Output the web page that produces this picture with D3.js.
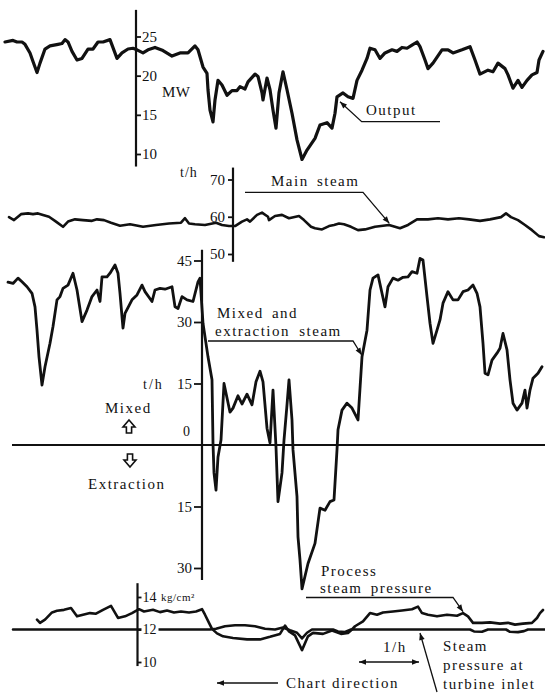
<!DOCTYPE html>
<html>
<head>
<meta charset="utf-8">
<script src="https://cdn.jsdelivr.net/npm/d3@7"></script>
<style>
  html, body { margin: 0; padding: 0; background: #fff; }
  svg { display: block; }
</style>
</head>
<body>
<svg id="chart" width="545" height="695"></svg>
<script>
// ---- Recorder strip data: [time along strip (min), value] ----
const outputMW = [
  [1,24.3],[9,24.5],[13,24.3],[18,24.3],[21,24.0],[26,22.9],[29,21.8],[33,20.4],[36,21.6],[41,23.4],
  [46,23.8],[54,24.0],[58,24.1],[61,24.6],[64,24.3],[68,23.1],[73,22.0],[78,22.2],[84,23.4],[89,23.4],
  [94,24.3],[99,24.3],[106,24.6],[113,22.2],[118,22.9],[124,23.4],[129,23.5],[133,23.3],[139,22.9],[144,23.3],
  [151,23.6],[159,23.2],[168,22.5],[176,22.9],[184,22.9],[191,23.8],[194,23.3],[199,21.1],[203,20.3],[204,18.2],
  [206,15.6],[209,14.1],[211,16.9],[214,19.4],[218,18.8],[223,17.5],[228,18.1],[233,18.1],[236,18.6],[241,18.3],
  [244,19.2],[251,20.2],[254,19.9],[258,17.8],[259,16.9],[263,19.7],[266,18.2],[269,15.6],[272,13.3],[275,17.8],
  [279,20.5],[283,18.2],[288,15.2],[293,11.8],[298,9.3],[303,10.5],[311,12.0],[316,13.7],[323,14.0],[328,13.3],
  [331,15.2],[333,17.3],[339,17.8],[344,17.3],[349,17.1],[353,19.4],[358,20.7],[363,22.2],[366,23.5],[371,23.3],
  [376,22.2],[381,22.9],[388,23.3],[393,23.1],[398,23.6],[403,23.5],[408,23.9],[413,24.3],[416,23.7],[421,22.0],
  [424,20.9],[429,21.6],[438,23.3],[444,23.3],[449,22.9],[458,23.3],[466,23.7],[471,22.0],[476,20.2],[484,20.7],
  [489,20.5],[494,21.6],[501,20.9],[504,20.1],[509,18.4],[514,19.4],[518,18.5],[523,19.4],[528,20.1],[533,20.4],
  [535,22.0],[539,23.1]
];

const mainSteam = [
  [5,59.9],[10,59.1],[17,60.7],[24,60.9],[29,60.7],[34,60.9],[39,60.5],[45,60.0],[52,58.7],[59,57.3],
  [64,58.7],[71,59.3],[79,59.1],[88,58.9],[93,59.3],[100,59.1],[107,58.4],[116,57.6],[126,58.0],[139,57.3],
  [152,57.8],[165,58.2],[177,58.4],[181,59.6],[185,58.2],[191,58.0],[201,57.8],[212,58.4],[218,57.8],[225,57.5],
  [231,57.5],[238,58.7],[243,59.3],[246,58.7],[253,60.5],[258,61.1],[264,60.0],[265,59.1],[271,60.2],[278,60.5],
  [285,59.6],[295,60.2],[300,59.1],[307,57.3],[311,56.9],[318,56.6],[325,57.5],[330,57.8],[335,58.2],[340,58.0],
  [347,57.3],[354,56.4],[361,56.6],[371,57.3],[385,57.8],[396,56.9],[404,57.8],[413,59.3],[424,59.3],[434,59.6],
  [444,59.3],[455,59.6],[465,59.3],[476,58.9],[486,59.3],[497,59.9],[502,60.9],[507,59.9],[514,59.1],[521,57.8],
  [528,56.4],[535,54.8],[540,54.5]
];

// positive = mixed (admission), negative = extraction, t/h
const mixedExtraction = [
  [4,39.7],[9,39.4],[14,40.7],[18,39.8],[23,38.6],[28,37.0],[31,33.7],[33,28.0],[35,21.5],[38,14.6],
  [41,19.1],[46,24.8],[49,28.9],[53,35.4],[56,36.2],[59,38.2],[64,39.0],[69,41.9],[73,37.8],[78,30.1],
  [83,32.9],[88,36.2],[93,37.8],[96,35.0],[98,41.0],[103,41.0],[106,41.9],[111,43.9],[114,41.9],[116,37.0],
  [119,28.5],[121,32.1],[128,35.4],[133,36.6],[138,39.0],[141,37.4],[148,35.0],[151,37.8],[156,38.2],[161,38.0],
  [168,38.6],[171,33.7],[174,33.3],[178,36.2],[183,35.4],[189,35.0],[194,39.8],[196,40.7],[199,29.7],[204,21.5],
  [208,15.9],[209,0.4],[210,-6.8],[212,-11.0],[214,-2.9],[217,1.2],[220,15.0],[226,8.0],[229,9.0],[234,12.0],
  [238,10.0],[243,12.4],[248,9.8],[252,15.4],[256,18.0],[259,15.4],[263,4.1],[266,0.5],[269,13.4],[272,-0.5],
  [274,-13.8],[278,-6.8],[280,1.2],[283,9.8],[285,15.9],[288,6.1],[289,-1.2],[293,-12.6],[294,-22.4],[296,-28.0],
  [298,-35.1],[304,-28.9],[311,-24.0],[316,-15.4],[321,-15.9],[326,-13.8],[330,-13.4],[333,-1.2],[334,3.7],[338,8.5],
  [343,10.2],[348,9.0],[354,6.1],[358,21.5],[363,28.0],[366,37.8],[369,40.7],[374,41.5],[378,37.0],[381,33.7],
  [384,38.6],[389,40.7],[394,40.2],[399,40.9],[404,41.0],[408,42.3],[413,41.9],[416,45.5],[419,45.1],[423,36.2],
  [426,29.7],[429,24.8],[433,28.0],[436,30.5],[439,34.6],[444,37.4],[449,35.4],[454,35.4],[459,37.4],[464,37.8],
  [469,39.0],[473,37.0],[476,33.7],[479,24.8],[481,17.5],[484,17.1],[488,20.7],[493,22.4],[496,23.6],[499,27.2],
  [503,23.2],[506,15.9],[509,10.2],[513,8.5],[518,10.2],[521,13.4],[523,9.0],[526,13.4],[529,16.3],[534,17.5],
  [538,19.1]
];

// kg/cm2
const processPressure = [
  [33,12.61],[36,12.41],[41,12.61],[48,13.05],[53,13.15],[60,13.21],[67,13.32],[73,12.81],[79,12.91],[86,13.01],
  [92,12.97],[99,13.21],[107,13.45],[114,12.71],[121,12.81],[128,13.01],[135,13.25],[140,13.11],[149,13.21],[156,13.07],
  [163,13.17],[170,13.05],[177,13.11],[185,13.05],[192,13.11],[198,13.25],[201,12.91],[205,12.41],[208,12.04],[213,11.76],
  [219,11.58],[229,11.48],[243,11.39],[256,11.39],[266,11.55],[276,11.73],[281,12.24],[285,11.88],[291,11.64],[298,10.73],
  [304,11.58],[309,11.79],[319,11.73],[328,11.94],[337,11.73],[344,11.79],[348,12.0],[351,12.2],[359,12.5],[366,13.01],
  [373,12.91],[379,13.05],[389,13.11],[398,13.17],[408,13.25],[414,13.41],[418,13.01],[424,12.91],[433,12.81],[443,12.91],
  [453,12.85],[459,13.01],[464,12.81],[469,12.41],[478,12.41],[486,12.44],[496,12.36],[504,12.41],[511,12.30],[519,12.36],
  [528,12.41],[533,12.71],[536,13.01],[539,13.2]
];

const inletPressure = [
  [9,12.0],[206,12.0],[212,12.05],[221,12.2],[231,12.26],[241,12.26],[251,12.2],[261,12.05],[271,12.0],[279,12.12],
  [286,11.95],[293,11.8],[298,11.45],[303,11.8],[308,12.0],[329,12.0],[334,11.88],[341,11.85],[347,12.0],[466,12.0],
  [470,11.88],[478,11.86],[484,12.0],[502,12.0],[506,11.86],[514,11.84],[520,11.9],[524,12.0],[541,12.0]
];

const outputTicks = [10, 15, 20, 25];
const mainTicks = [50, 60, 70];
const mixedTicks = [45, 30, 15, -15, -30];
const pressureTicks = [10, 12, 14];

// ---- scales ----
const svg = d3.select("#chart");
const x = d3.scaleLinear().domain([0, 540]).range([4, 544]);
const yOut = d3.scaleLinear().domain([10, 25]).range([154, 36.5]);
const yMain = d3.scaleLinear().domain([50, 70]).range([254, 179.5]);
const yMix = d3.scaleLinear().domain([-30, 45]).range([568, 260.5]);
const yPr = d3.scaleLinear().domain([10, 14]).range([662, 597]);

const ink = "#111";
const FONT = "'Liberation Serif', 'DejaVu Serif', 'Times New Roman', serif";

// arrowhead marker
const defs = svg.append("defs");
defs.append("marker")
  .attr("id", "ah").attr("viewBox", "0 0 10 10")
  .attr("refX", 10).attr("refY", 5)
  .attr("markerWidth", 9).attr("markerHeight", 7)
  .attr("markerUnits", "userSpaceOnUse")
  .attr("orient", "auto-start-reverse")
  .append("path").attr("d", "M0,1 L10,5 L0,9 Z").attr("fill", ink);

// ---- zero line of the mixed / extraction record ----
svg.append("line")
  .attr("x1", x(8)).attr("x2", x(541))
  .attr("y1", yMix(0)).attr("y2", yMix(0))
  .attr("stroke", ink).attr("stroke-width", 2.2);

// ---- traces ----
function trace(data, yScale, w) {
  svg.append("path")
    .datum(data)
    .attr("fill", "none")
    .attr("stroke", ink)
    .attr("stroke-width", w)
    .attr("stroke-linejoin", "round")
    .attr("stroke-linecap", "round")
    .attr("d", d3.line().x(d => x(d[0])).y(d => yScale(d[1])));
}
trace(outputMW, yOut, 3.2);
trace(mainSteam, yMain, 2.6);
trace(mixedExtraction, yMix, 2.8);
trace(inletPressure, yPr, 2.6);
trace(processPressure, yPr, 2.6);

// ---- axes ----
function styleAxis(g, size) {
  g.select(".domain").remove();
  g.selectAll(".tick line").attr("stroke", ink).attr("stroke-width", 1.8);
  g.selectAll(".tick text").attr("font-family", FONT).attr("font-size", size).attr("fill", ink);
}
function axisLine(xPos, y1, y2) {
  svg.append("line").attr("x1", xPos).attr("x2", xPos).attr("y1", y1).attr("y2", y2)
    .attr("stroke", ink).attr("stroke-width", 2.2);
}

// Output MW
axisLine(136, yOut(28.4), yOut(8.4));
svg.append("g").attr("transform", "translate(136,0)")
  .call(d3.axisRight(yOut).tickValues(outputTicks).tickSize(5).tickPadding(1))
  .call(g => styleAxis(g, 15));

// Main steam t/h
axisLine(233, yMain(73.2), yMain(47.9));
svg.append("g").attr("transform", "translate(233,0)")
  .call(d3.axisLeft(yMain).tickValues(mainTicks).tickSize(5).tickPadding(3))
  .call(g => styleAxis(g, 15));

// Mixed / extraction t/h
axisLine(202, yMix(47.6), yMix(-32.9));
svg.append("g").attr("transform", "translate(202,0)")
  .call(d3.axisLeft(yMix).tickValues(mixedTicks).tickSize(8).tickPadding(2)
    .tickFormat(d => Math.abs(d)))
  .call(g => styleAxis(g, 15));

// Pressure kg/cm2
axisLine(137.5, yPr(14.85), yPr(9.75));
const prAxis = svg.append("g").attr("transform", "translate(137.5,0)")
  .call(d3.axisRight(yPr).tickValues(pressureTicks).tickSize(4).tickPadding(1)
    .tickFormat(d3.format("d")))
  .call(g => styleAxis(g, 14));
prAxis.selectAll(".tick").filter(d => d === 12)
  .insert("rect", "text").attr("x", 4).attr("y", -7).attr("width", 17).attr("height", 14).attr("fill", "#fff");

// ---- labels ----
function label(txt, xPos, yPos, size, opts = {}) {
  return svg.append("text")
    .attr("x", xPos).attr("y", yPos)
    .attr("font-family", opts.family || FONT)
    .attr("font-size", size)
    .attr("fill", ink)
    .attr("letter-spacing", opts.ls !== undefined ? opts.ls : 1.5)
    .attr("word-spacing", opts.ws || 0)
    .attr("text-anchor", opts.anchor || "start")
    .text(txt);
}
label("MW", 162, 97, 15, { ls: 0.5 });
label("t/h", 180, 177, 14, { ls: 1 });
label("0", 183, 436, 14, { ls: 0 });
label("t/h", 143, 389, 14, { ls: 2 });
label("Mixed", 105, 413, 15);
label("Extraction", 88, 489, 15);
label("kg/cm\u00B2", 161, 601, 11, { ls: 0.5 });

// hollow block arrows: up = mixed, down = extraction
function blockArrow(cx, tip, base, dir) {
  const hw = 6, sw = 2.6, head = 7 * dir;
  const p = d3.path();
  p.moveTo(cx, tip);
  p.lineTo(cx + hw, tip + head);
  p.lineTo(cx + sw, tip + head);
  p.lineTo(cx + sw, base);
  p.lineTo(cx - sw, base);
  p.lineTo(cx - sw, tip + head);
  p.lineTo(cx - hw, tip + head);
  p.closePath();
  svg.append("path").attr("d", p.toString())
    .attr("fill", "#fff").attr("stroke", ink).attr("stroke-width", 1.6)
    .attr("stroke-linejoin", "miter");
}
blockArrow(129, 420, 433, 1);
blockArrow(130, 467, 454, -1);

label("Output", 366, 115, 15);
label("Main steam", 271, 186, 15, { ws: 3 });
label("Mixed and", 217, 318, 15, { ws: 3 });
label("extraction steam", 215, 336, 15, { ws: 4 });
label("Process", 321, 576, 15);
label("steam pressure", 320, 593, 15, { ws: 3 });
label("1/h", 383, 652, 15);
label("Chart direction", 286, 688, 15);
label("Steam", 443, 651, 15);
label("pressure at", 443, 670, 15);
label("turbine inlet", 443, 689, 15);

// ---- leaders ----
function leader(points, w) {
  svg.append("path")
    .attr("d", d3.line()(points))
    .attr("fill", "none").attr("stroke", ink).attr("stroke-width", w || 1.3)
    .attr("marker-end", "url(#ah)");
}
leader([[440, 121.7], [361.7, 121.7], [340, 101.7]]);
leader([[245, 192.3], [363, 192.3], [389.3, 223.3]]);
leader([[208, 341], [353, 341], [361.7, 355]]);
leader([[306, 597.5], [453, 597.5], [463, 611.7]]);
leader([[437, 692], [420, 633]]);
leader([[278, 683], [217, 683]], 1.5);

// one-hour span
svg.append("line")
  .attr("x1", x(355)).attr("x2", x(415))
  .attr("y1", 662).attr("y2", 662)
  .attr("stroke", ink).attr("stroke-width", 1.5)
  .attr("marker-start", "url(#ah)").attr("marker-end", "url(#ah)");
</script>
</body>
</html>
